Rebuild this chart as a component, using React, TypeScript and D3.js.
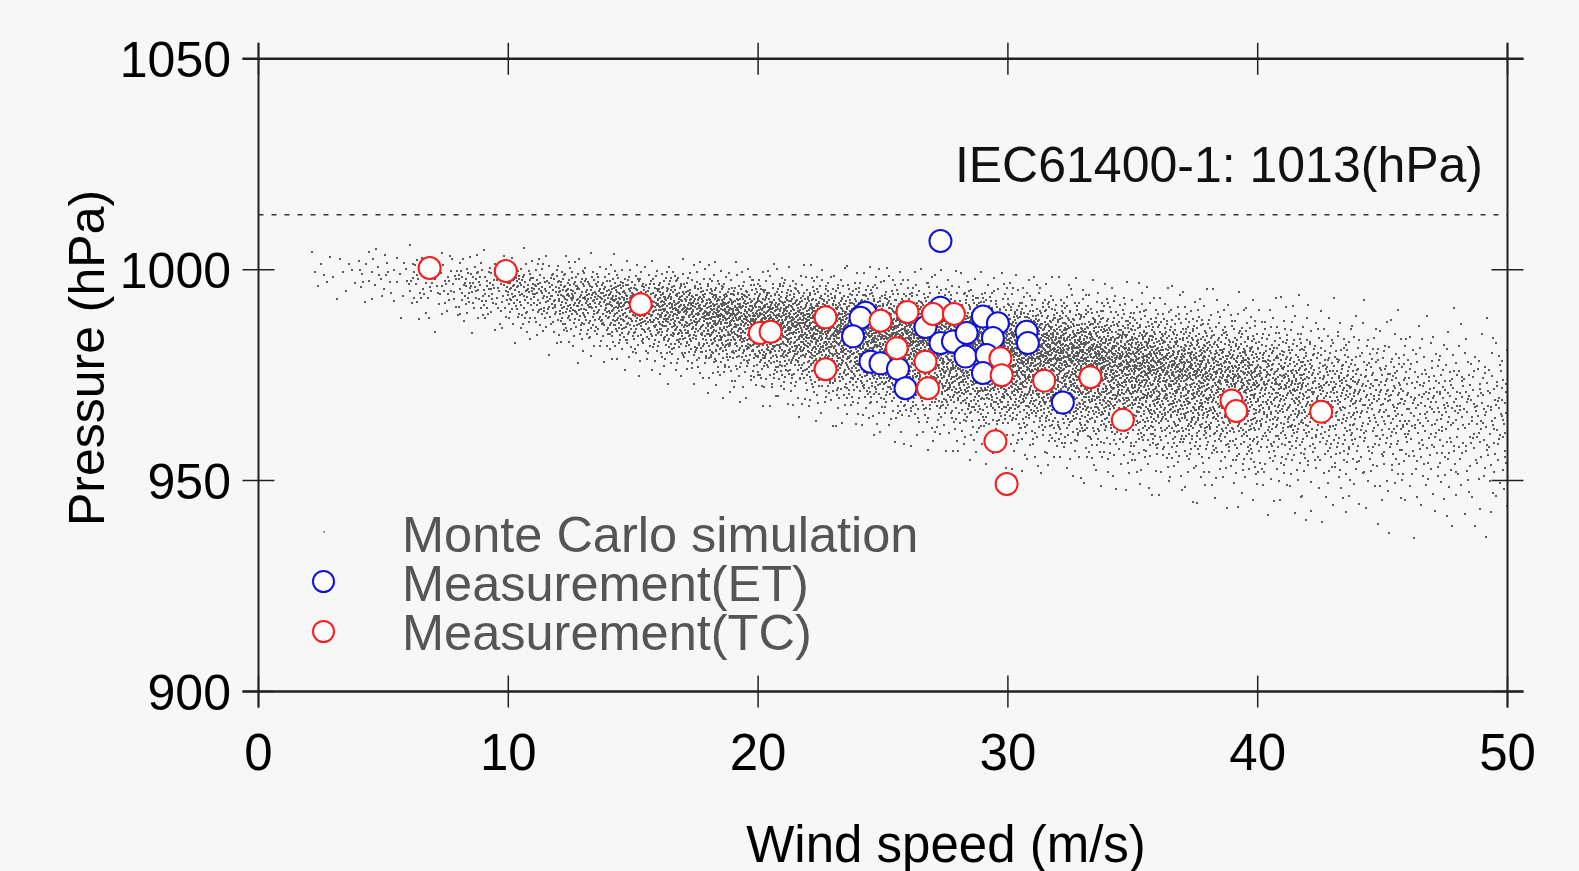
import React, { useMemo } from 'react';
import * as d3 from 'd3';

// ---- axes ----
const xTicks = [0, 10, 20, 30, 40, 50];
const yTicks = [900, 950, 1000, 1050];
const iecPressure = 1013;
const iecLabel = 'IEC61400-1: 1013(hPa)';

// ---- measurements, extratropical cyclones (ET) ----
const etWind = [27.3, 24.3, 24.1, 23.8, 24.5, 24.9, 25.6, 25.9, 26.7, 27.3, 27.3, 27.8, 28.35, 28.3, 29.0, 29.6, 29.4, 29.15, 29.0, 30.75, 30.8, 32.2];
const etPressure = [1006.8, 989.8, 988.6, 984.2, 978.2, 977.8, 976.5, 971.9, 986.4, 991.0, 982.6, 983.0, 985.0, 979.4, 988.9, 987.3, 983.8, 979.8, 975.5, 985.3, 982.6, 968.5];

// ---- measurements, tropical cyclones (TC) ----
const tcWind = [6.85, 9.9, 15.3, 20.07, 20.5, 22.7, 22.7, 24.9, 25.55, 25.98, 26.7, 26.8, 27.0, 27.84, 29.7, 29.75, 29.5, 29.95, 31.45, 33.3, 34.6, 38.95, 39.14, 42.54];
const tcPressure = [1000.4, 999.7, 991.8, 985.0, 985.3, 988.7, 976.4, 987.9, 981.4, 990.0, 978.2, 971.9, 989.5, 989.5, 979.0, 975.0, 959.3, 949.2, 973.7, 974.5, 964.4, 969.0, 966.5, 966.3];

// ---- Monte Carlo cloud ----
const mcBinLo = [2, 4, 6, 8, 10, 12, 14, 16, 18, 20, 22, 24, 26, 28, 30, 32, 34, 36, 38, 40, 42, 44, 46, 48];
const mcBinCount = [15, 35, 70, 110, 170, 240, 320, 400, 480, 560, 640, 700, 740, 760, 760, 740, 690, 620, 530, 420, 320, 240, 190, 160];
const mcBinMean = [1000, 998.5, 997, 995.5, 994.5, 992.5, 991, 989.5, 988, 986.5, 985, 983.5, 982, 980.5, 979, 977.5, 976, 974.5, 973, 971.5, 970, 968.5, 967, 965.5];
const mcBinSdUp = [3.4, 3.5, 3.7, 3.8, 4, 4.2, 4.5, 4.7, 5, 5.4, 5.8, 6.2, 6.6, 6.9, 7.1, 7.4, 7.6, 7.8, 8, 8.3, 8.5, 8.7, 9, 9.2];
const mcBinSdDown = [3.8, 4.1, 4.4, 4.6, 5, 5.4, 5.8, 6.4, 6.9, 7.5, 8, 8.6, 9.1, 9.6, 9.9, 10.2, 10.4, 10.6, 10.8, 11, 11, 11.2, 11.4, 11.5];
const mcBinWidth = 2;

const W = 1579;
const H = 871;
const FONT = "'Liberation Sans', Arial, Helvetica, sans-serif";

function halton(i: number, b: number) {
  let f = 1, r = 0;
  while (i > 0) { f /= b; r += f * (i % b); i = Math.floor(i / b); }
  return r;
}

function invNorm(p: number) {
  const a = [-3.969683028665376e+01, 2.209460984245205e+02, -2.759285104469687e+02, 1.383577518672690e+02, -3.066479806614716e+01, 2.506628277459239e+00];
  const b = [-5.447609879822406e+01, 1.615858368580409e+02, -1.556989798598866e+02, 6.680131188771972e+01, -1.328068155288572e+01];
  const c = [-7.784894002430293e-03, -3.223964580411365e-01, -2.400758277161838e+00, -2.549732539343734e+00, 4.374664141464968e+00, 2.938163982698783e+00];
  const d = [7.784695709041462e-03, 3.224671290700398e-01, 2.445134137142996e+00, 3.754408661907416e+00];
  const pl = 0.02425, ph = 1 - pl;
  let q, r;
  if (p < pl) {
    q = Math.sqrt(-2 * Math.log(p));
    return (((((c[0] * q + c[1]) * q + c[2]) * q + c[3]) * q + c[4]) * q + c[5]) / ((((d[0] * q + d[1]) * q + d[2]) * q + d[3]) * q + 1);
  }
  if (p > ph) {
    q = Math.sqrt(-2 * Math.log(1 - p));
    return -(((((c[0] * q + c[1]) * q + c[2]) * q + c[3]) * q + c[4]) * q + c[5]) / ((((d[0] * q + d[1]) * q + d[2]) * q + d[3]) * q + 1);
  }
  q = p - 0.5; r = q * q;
  return (((((a[0] * r + a[1]) * r + a[2]) * r + a[3]) * r + a[4]) * r + a[5]) * q / (((((b[0] * r + b[1]) * r + b[2]) * r + b[3]) * r + b[4]) * r + 1);
}

export default function App() {
  const x = d3.scaleLinear().domain([0, 50]).range([258.5, 1507.5]);
  const y = d3.scaleLinear().domain([900, 1050]).range([691.5, 58.8]);

  const mcPoints = useMemo(() => {
    const centers = mcBinLo.map((v) => v + mcBinWidth / 2);
    const meanAt = d3.scaleLinear().domain(centers).range(mcBinMean).clamp(true);
    const upAt = d3.scaleLinear().domain(centers).range(mcBinSdUp).clamp(true);
    const downAt = d3.scaleLinear().domain(centers).range(mcBinSdDown).clamp(true);
    const pts: [number, number][] = [];
    let k = 1;
    mcBinLo.forEach((lo, j) => {
      for (let i = 0; i < mcBinCount[j]; i++, k++) {
        const u = halton(k, 2);
        const v = Math.min(0.997, Math.max(0.003, halton(k, 3)));
        const ws = lo + u * mcBinWidth;
        const z = invNorm(v);
        const p = meanAt(ws) + (z > 0 ? z * upAt(ws) : z * downAt(ws));
        if (ws <= 50 && p >= 900 && p <= 1050) pts.push([ws, p]);
      }
    });
    return pts;
  }, []);

  const x0 = x(0), x1 = x(50), y0 = y(900), y1 = y(1050);
  const ext = 16;
  const axisColor = '#222';

  return (
    <div style={{ position: 'fixed', left: 0, top: 0, width: W, height: H, background: '#f7f7f7' }}>
      <svg width={W} height={H} style={{ display: 'block', fontFamily: FONT }}>
        <rect x={0} y={0} width={W} height={H} fill="#f7f7f7" />
        {/* Monte Carlo cloud */}
        <g fill="#5c5c5c" shapeRendering="crispEdges">
          {mcPoints.map((d, i) => (
            <rect key={i} x={x(d[0]) - 1} y={y(d[1]) - 1} width={2} height={2} />
          ))}
        </g>
        {/* IEC reference line */}
        <line x1={x0} x2={x1} y1={y(iecPressure)} y2={y(iecPressure)} stroke="#333" strokeWidth={1.5} strokeDasharray="5,8" />
        <text x={1483} y={182} fontSize={50} textAnchor="end" fill="#111">{iecLabel}</text>

        {/* frame */}
        <g stroke={axisColor} fill="none">
          <line x1={x0 - ext} x2={x1 + ext} y1={y0} y2={y0} strokeWidth={2.5} />
          <line x1={x0 - ext} x2={x1 + ext} y1={y1} y2={y1} strokeWidth={2.5} />
          <line x1={x0} x2={x0} y1={y1 - ext} y2={y0 + ext} strokeWidth={2} />
          <line x1={x1} x2={x1} y1={y1 - ext} y2={y0 + ext} strokeWidth={2} />
          {xTicks.map((t) => (
            <g key={'xt' + t}>
              <line x1={x(t)} x2={x(t)} y1={y0 - ext} y2={y0 + ext} strokeWidth={1.5} />
              <line x1={x(t)} x2={x(t)} y1={y1 - ext} y2={y1 + ext} strokeWidth={1.5} />
            </g>
          ))}
          {yTicks.map((t) => (
            <g key={'yt' + t}>
              <line x1={x0 - ext} x2={x0 + ext} y1={y(t)} y2={y(t)} strokeWidth={1.5} />
              <line x1={x1 - ext} x2={x1 + ext} y1={y(t)} y2={y(t)} strokeWidth={1.5} />
            </g>
          ))}
        </g>

        {/* tick labels */}
        {xTicks.map((t) => (
          <text key={'xl' + t} x={x(t)} y={770} fontSize={51} textAnchor="middle" fill="#000">{t}</text>
        ))}
        {yTicks.map((t) => (
          <text key={'yl' + t} x={231} y={y(t) + 18} fontSize={50} textAnchor="end" fill="#000">{t}</text>
        ))}

        {/* axis titles */}
        <text x={946} y={862} fontSize={51} textAnchor="middle" fill="#000">Wind speed (m/s)</text>
        <text transform={`translate(104,358) rotate(-90)`} fontSize={50} textAnchor="middle" fill="#000">Pressure (hPa)</text>

        {/* measurements */}
        <g fill="#fff" stroke="#1111dd" strokeWidth={2}>
          {etWind.map((w, i) => (
            <circle key={'et' + i} cx={x(w)} cy={y(etPressure[i])} r={11} />
          ))}
        </g>
        <g fill="#fff" stroke="#ff1a1a" strokeWidth={2}>
          {tcWind.map((w, i) => (
            <circle key={'tc' + i} cx={x(w)} cy={y(tcPressure[i])} r={11} />
          ))}
        </g>

        {/* legend */}
        <g>
          <rect x={323.5} y={531} width={1.5} height={1.5} fill="#5a5a5a" />
          <text x={402} y={552} fontSize={50.5} fill="#555">Monte Carlo simulation</text>
          <circle cx={323.5} cy={581.5} r={10.5} fill="#fff" stroke="#1111dd" strokeWidth={2} />
          <text x={402} y={601} fontSize={50.5} fill="#555">Measurement(ET)</text>
          <circle cx={323.5} cy={631.5} r={10.5} fill="#fff" stroke="#ff1a1a" strokeWidth={2} />
          <text x={402} y={650} fontSize={50.5} fill="#555">Measurement(TC)</text>
        </g>
      </svg>
    </div>
  );
}
